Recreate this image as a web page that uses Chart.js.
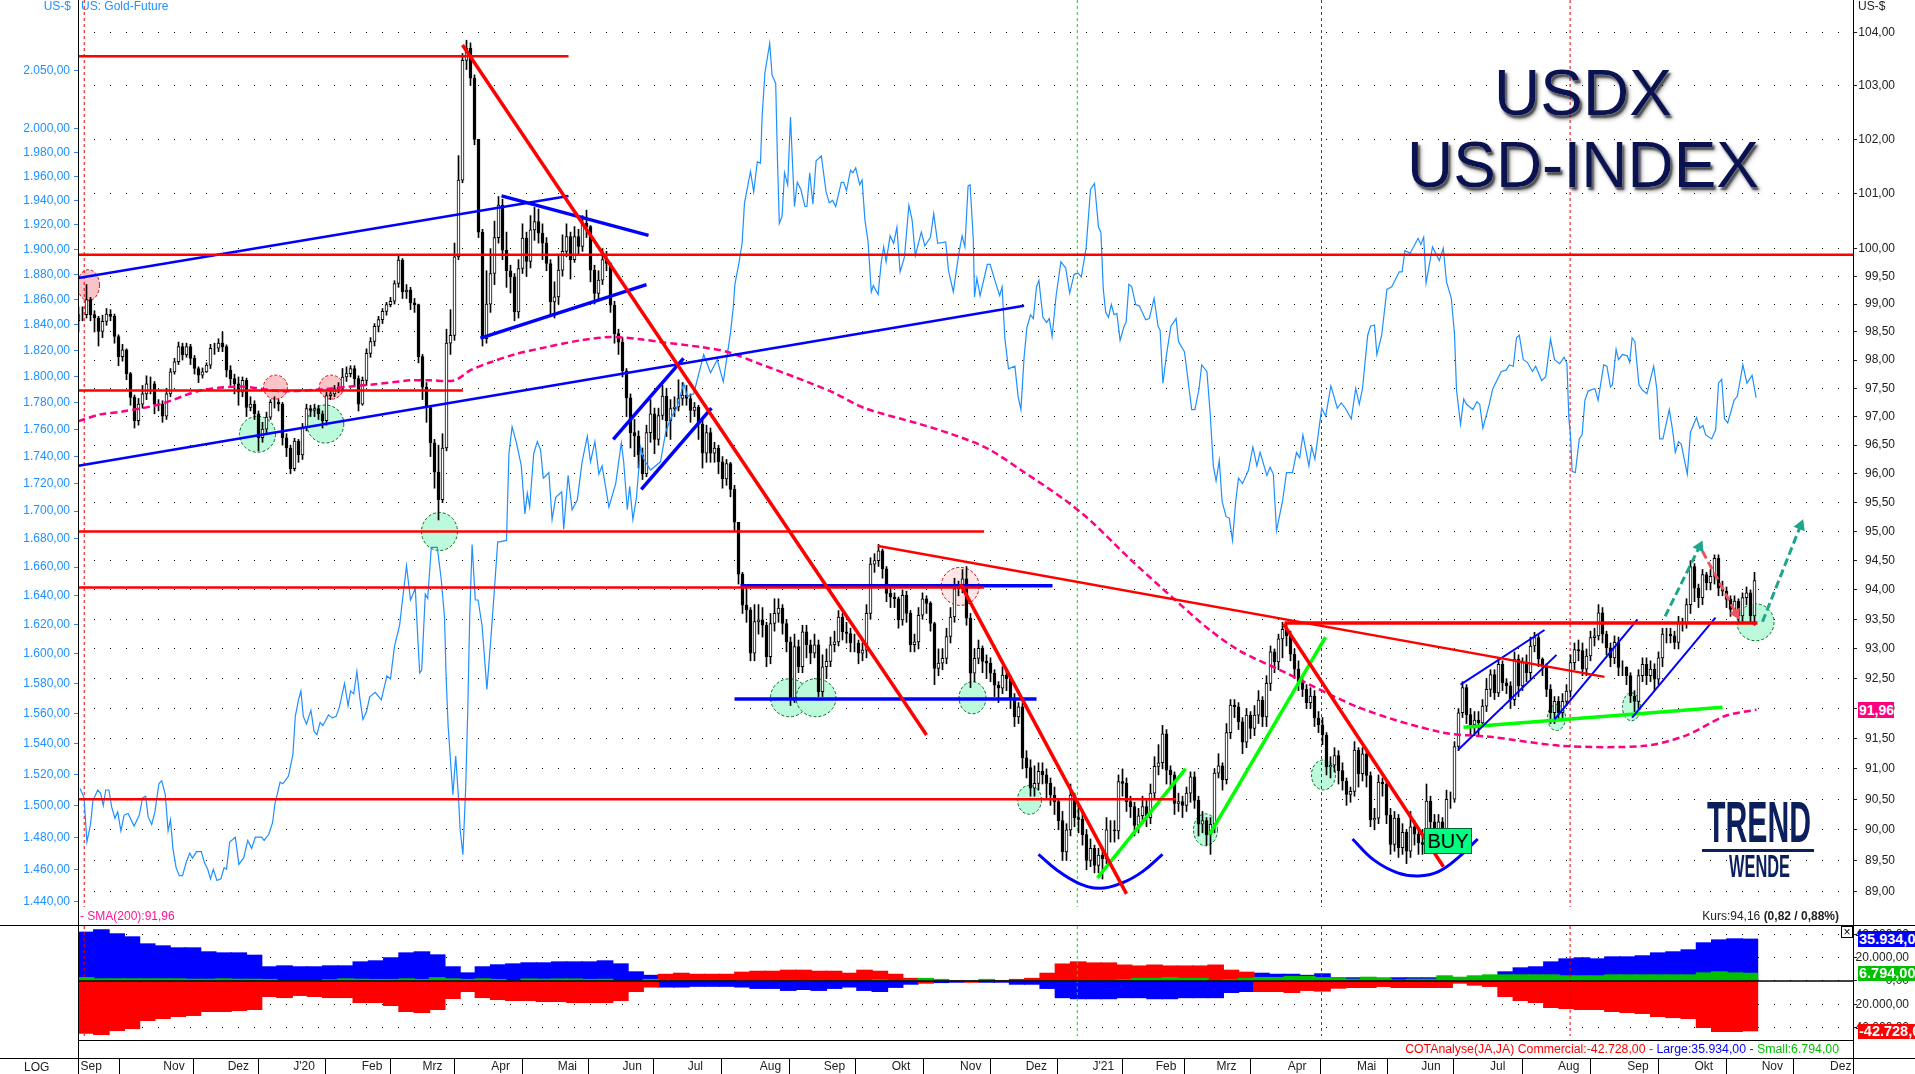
<!DOCTYPE html>
<html><head><meta charset="utf-8"><title>USDX USD-INDEX</title>
<script src="https://cdn.jsdelivr.net/npm/chart.js@4"></script>
<style>
html,body{margin:0;padding:0;background:#fff;width:1915px;height:1074px;overflow:hidden;font-family:"Liberation Sans",Arial,sans-serif}
canvas{position:absolute;left:0}
.t{position:absolute;white-space:nowrap;font-size:12px;line-height:14px}
.ln{position:absolute;background:#000}
.box{position:absolute;left:1858px;width:57px;color:#fff;font-weight:bold;font-size:14.5px;overflow:hidden;white-space:nowrap;text-align:left;padding-left:1px;box-sizing:border-box}
.big{position:absolute;white-space:nowrap;font-size:64px;line-height:64px;color:#0a1250;width:500px;left:1333px;text-align:center;text-shadow:0 0 1px #fff,2px 3px 2px rgba(0,0,0,.6),3px 4px 4px rgba(0,0,0,.35)}
</style></head><body>
<canvas id="main" width="1915" height="925" style="top:0"></canvas>
<canvas id="cot" width="1915" height="149" style="top:925px"></canvas>
<div class="ln" style="left:78px;top:0;width:1px;height:1074px"></div>
<div class="ln" style="left:1853px;top:0;width:1px;height:1074px"></div>
<div class="ln" style="left:0;top:925px;width:1915px;height:1px"></div>
<div class="ln" style="left:78px;top:1040px;width:1775px;height:1px"></div>
<div class="ln" style="left:0;top:1058px;width:1915px;height:1px"></div>
<div class="t" style="left:21px;width:50px;text-align:right;top:-1px;color:#1e90ff">US-$</div>
<div class="t" style="left:81px;top:-1px;color:#1e90ff">US: Gold-Future</div>
<div class="t" style="left:1858px;top:-1px;color:#222">US-$</div>
<div class="t" style="left:80px;top:909px;color:#ff1493">- SMA(200):91,96</div>
<div class="t" style="left:24px;top:1060px;color:#222">LOG</div>
<div class="t" style="right:76px;top:909px;color:#222">Kurs:94,16 <b>(0,82 / 0,88%)</b></div>
<div class="t" style="right:76px;top:1042px;font-size:12.3px"><span style="color:#f00">COTAnalyse(JA,JA) Commercial:-42.728,00 - </span><span style="color:#00f">Large:35.934,00 - </span><span style="color:#00c000">Small:6.794,00</span></div>
<div class="big" style="top:61px">USDX</div>
<div class="big" style="top:133px">USD-INDEX</div>
<div class="t" id="logo1" style="left:1707px;top:793px;font:bold 58px/58px 'Liberation Sans Narrow','Liberation Sans';color:#0b1f5c;transform-origin:0 0">TREND</div>
<div class="ln" style="left:1702px;top:849px;width:112px;height:3px;background:#0b1f5c"></div>
<div class="t" id="logo2" style="left:1729px;top:851px;font:bold 31px/31px 'Liberation Sans Narrow','Liberation Sans';color:#0b1f5c;transform-origin:0 0">WENDE</div>
<div class="t" style="left:1424px;top:828px;width:46px;height:24px;background:#00ff80;border:1px solid #063;font-size:20px;line-height:24px;text-align:center;color:#000">BUY</div>
<div class="box" style="top:702px;left:1858px;width:36px;height:16px;background:#ff0080;line-height:16px;font-size:14px">91,96</div>
<div class="box" style="top:931px;height:16px;background:#0000ff;line-height:16px">35.934,00</div>
<div class="box" style="top:966px;height:15px;background:#00c000;line-height:15px">6.794,00</div>
<div class="box" style="top:1024px;height:15px;background:#ff0000;line-height:15px">-42.728,00</div>
<div class="t" style="left:1841px;top:926px;width:10px;height:10px;border:1px solid #000;font-size:12px;line-height:10px;text-align:center;background:#fff">×</div>
<script>
const monthTicks=[0,20.7,36.8,53.2,70.3,85.5,102.7,119.3,135.5,151.8,169.8,185.8,202.8,219.9,236.3,253,268.8,284,301.8,319.1,335.2,352.4,369.4,386.7,403.5,420.3,437.4];
const monthLabels=["Sep","Nov","Dez","J'20","Feb","Mrz","Apr","Mai","Jun","Jul","Aug","Sep","Okt","Nov","Dez","J'21","Feb","Mrz","Apr","Mai","Jun","Jul","Aug","Sep","Okt","Nov","Dez"];
const goldTicks=[2050,2000,1980,1960,1940,1920,1900,1880,1860,1840,1820,1800,1780,1760,1740,1720,1700,1680,1660,1640,1620,1600,1580,1560,1540,1520,1500,1480,1460,1440];
const usdTicks=[104,103,102,101,100,99.5,99,98.5,98,97.5,97,96.5,96,95.5,95,94.5,94,93.5,93,92.5,92,91.5,91,90.5,90,89.5,89];
const cotTicks=[40000,20000,0,-20000,-40000];
const firstOpen=98.7;
const closes=[98.81,98.81,99.08,98.81,98.75,98.51,98.69,98.82,98.78,98.42,98.06,98.18,97.76,97.34,96.93,97.22,97.40,97.58,97.58,97.22,97.22,97.01,97.40,97.79,97.97,98.24,98.09,98.24,98.03,97.85,97.73,97.79,97.91,98.21,98.21,98.30,98.24,97.82,97.67,97.58,97.43,97.64,97.16,97.22,97.05,96.63,96.78,96.99,97.25,97.25,97.22,96.63,96.45,96.09,96.57,96.33,96.81,97.14,97.11,97.14,97.05,96.93,97.37,97.40,97.49,97.52,97.70,97.76,97.85,97.67,97.22,97.64,98.12,98.33,98.60,98.72,98.87,98.99,99.05,99.37,99.79,99.22,99.25,99.02,98.99,98.06,97.52,97.16,96.54,96.03,
95.55,96.45,98.3,98.44,99.85,101.25,103.47,103.7,103.14,102.0,100.3,98.38,99.0,99.55,100.2,100.79,99.97,99.6,99.49,98.86,99.64,100.19,99.77,100.34,100.49,100.28,100.1,99.73,99.04,99.13,99.61,99.95,100.22,99.8,100.22,100.04,100.46,100.4,99.61,99.19,99.43,99.8,99.73,98.98,98.47,98.32,97.81,97.33,96.72,96.66,96.33,96.0,96.72,97.05,96.6,97.02,97.36,96.93,97.14,97.17,97.32,97.38,97.32,97.11,97.17,96.87,96.36,96.72,96.36,96.45,96.21,95.91,96.18,95.73,95.16,
94.27,93.74,93.66,92.93,93.46,93.49,93.4,92.87,93.43,93.6,93.69,93.43,93.12,92.17,93.04,92.7,93.29,93.07,92.93,93.07,92.28,92.7,92.79,93.07,93.12,93.54,93.29,93.26,93.1,93.1,92.93,92.98,93.6,94.44,94.5,94.67,94.36,93.94,93.88,93.85,93.49,93.91,93.6,93.07,93.12,93.57,93.85,93.77,93.43,92.67,92.76,92.84,93.21,93.54,94.02,94.05,94.19,93.52,92.59,92.84,93.01,92.79,92.76,92.59,92.39,92.34,92.56,92.5,92.17,91.86,92.03,91.18,91.02,90.68,90.76,90.96,90.9,90.76,90.57,90.46,90.15,89.64,90.0,90.57,90.2,90.17,89.92,89.5,89.7,89.42,89.59,89.53,90.0,90.0,89.98,90.79,90.76,90.46,90.38,90.07,90.23,90.38,90.2,90.6,91.04,91.1,91.58,90.98,90.9,90.43,90.46,90.4,90.6,90.87,90.48,90.09,90.15,89.92,90.09,90.93,91.05,90.82,91.6,92.06,92.03,91.78,91.44,91.89,91.67,91.89,92.14,91.86,92.42,92.95,92.78,93.17,
93.33,93.22,92.91,92.66,92.43,92.32,92.1,92.21,91.84,91.73,91.56,91.03,91.06,91.22,90.97,90.8,90.58,90.63,91.31,90.92,91.25,90.89,90.16,90.19,90.78,90.75,90.24,89.76,90.19,89.71,89.96,89.65,90.05,89.93,89.79,89.76,90.47,90.13,90.02,90.13,90.02,90.5,90.5,91.37,91.93,92.35,91.9,91.73,91.81,91.76,
92.04,92.32,92.57,92.26,92.74,92.43,92.38,92.15,92.83,92.38,92.77,92.6,93.05,93.19,92.83,92.71,92.32,91.93,92.12,91.93,92.12,92.29,92.77,92.99,92.97,92.66,92.88,93.19,93.22,93.61,93.25,93.02,92.85,93.11,92.69,92.69,92.55,92.21,92.12,92.55,92.74,92.55,92.66,92.49,92.85,93.25,93.25,93.22,93.11,93.44,93.44,93.75,94.4,94.03,93.87,94.26,94.12,94.23,94.54,94.03,93.98,93.84,93.67,93.81,93.56,93.87,93.95,93.56,94.16];
const highs=[98.95,98.95,99.35,99.12,98.88,98.78,98.8,98.92,98.9,98.82,98.45,98.28,98.2,97.78,97.38,97.32,97.55,97.72,97.7,97.62,97.3,97.28,97.5,97.85,98.03,98.32,98.3,98.3,98.28,98.08,97.88,97.86,97.95,98.28,98.3,98.38,98.5,98.27,97.9,97.75,97.7,97.7,97.68,97.35,97.28,97.1,96.9,97.08,97.3,97.35,97.3,97.25,96.7,96.5,96.62,96.6,96.88,97.22,97.2,97.22,97.2,97.1,97.43,97.48,97.55,97.6,97.85,97.88,97.9,97.9,97.72,97.7,98.2,98.4,98.65,98.78,98.92,99.03,99.12,99.42,99.88,99.82,99.35,99.3,99.1,99.0,98.1,97.6,97.2,96.6,
96.5,96.7,98.55,98.9,100.1,101.7,103.6,103.85,103.8,103.2,102,100.35,99.6,100.0,100.5,100.95,100.9,100.3,99.7,99.55,99.8,100.45,100.3,100.6,100.75,100.72,100.45,100.2,99.8,99.4,99.9,100.25,100.45,100.3,100.4,100.35,100.6,100.7,100.42,99.7,99.6,100.0,99.95,99.75,99.05,98.55,98.4,97.85,97.4,96.95,96.75,96.45,96.85,97.3,97.15,97.15,97.55,97.5,97.3,97.35,97.65,97.6,97.55,97.4,97.25,97.2,96.95,96.85,96.8,96.55,96.5,96.3,96.25,96.2,95.8,
94.85,94.3,94.05,93.7,93.75,93.75,93.7,93.45,93.6,93.85,93.85,93.75,93.5,93.2,93.25,93.15,93.4,93.4,93.15,93.25,93.15,92.9,93.0,93.2,93.3,93.65,93.6,93.45,93.35,93.25,93.15,93.1,93.75,94.55,94.62,94.78,94.7,94.4,94.05,93.95,93.88,94.0,93.98,93.65,93.25,93.7,93.95,93.9,93.8,93.45,93.0,93.0,93.35,93.7,94.2,94.15,94.35,94.4,93.6,93.0,93.15,93.05,92.9,92.85,92.65,92.45,92.7,92.65,92.55,92.25,92.1,92.1,91.3,91.15,91.05,91.1,91.1,91.0,90.85,90.7,90.5,90.3,90.1,90.75,90.6,90.4,90.3,90.0,89.85,89.75,89.7,89.7,90.2,90.15,90.15,90.9,91.0,90.85,90.55,90.45,90.35,90.55,90.5,90.75,91.2,91.4,91.72,91.65,91.05,90.95,90.6,90.55,90.7,90.95,90.95,90.55,90.3,90.2,90.2,91.0,91.25,91.1,91.75,92.15,92.15,92.1,91.85,92.0,91.95,92.05,92.3,92.2,92.55,93.05,93.0,93.25,
93.45,93.45,93.3,93.0,92.8,92.55,92.4,92.35,92.3,91.95,91.85,91.6,91.2,91.35,91.3,91.1,90.85,90.7,91.45,91.35,91.35,91.3,90.95,90.35,90.9,90.85,90.8,90.35,90.3,90.25,90.1,90.0,90.3,90.15,90.0,90.0,90.75,90.55,90.25,90.25,90.2,90.65,90.62,91.45,92.0,92.45,92.4,92.0,91.95,91.95,
92.15,92.5,92.65,92.65,92.85,92.8,92.5,92.45,92.95,92.9,92.85,92.9,93.2,93.28,93.25,92.85,92.75,92.4,92.2,92.2,92.25,92.4,92.9,93.1,93.15,93.1,93.0,93.3,93.35,93.75,93.7,93.3,93.1,93.22,93.2,92.8,92.7,92.6,92.3,92.65,92.85,92.85,92.8,92.75,92.95,93.35,93.35,93.35,93.3,93.55,93.52,93.85,94.5,94.45,94.1,94.35,94.3,94.35,94.6,94.6,94.15,94.05,93.9,93.9,93.85,93.95,94.05,94.0,94.3];
const lows=[98.5,98.7,98.75,98.7,98.5,98.25,98.4,98.62,98.7,98.3,97.9,97.98,97.65,97.2,96.8,96.85,97.15,97.3,97.4,97.05,97.1,96.9,96.95,97.35,97.75,97.92,98.0,98.05,97.92,97.75,97.6,97.68,97.78,97.85,98.1,98.15,98.15,97.7,97.55,97.4,97.2,97.35,97.0,97.1,96.95,96.4,96.55,96.72,96.95,97.15,97.1,96.5,96.3,96.0,96.05,96.2,96.25,96.75,97.0,97.0,96.95,96.8,96.85,97.3,97.35,97.42,97.45,97.62,97.7,97.55,97.1,97.2,97.55,98.05,98.25,98.5,98.65,98.8,98.95,99.0,99.3,99.1,99.1,98.9,98.85,97.95,97.3,96.9,96.3,95.75,
95.2,95.5,96.4,98.1,98.35,99.8,101.2,103.3,103.0,101.9,100.2,98.25,98.3,98.85,99.35,100.1,99.8,99.3,99.2,98.7,98.75,99.55,99.5,99.65,100.15,100.1,99.8,99.6,98.8,98.75,99.0,99.5,99.85,99.45,99.75,99.9,99.95,100.2,99.4,99.0,99.05,99.35,99.6,98.85,98.3,98.1,97.7,97.0,96.45,96.3,96.1,95.9,95.95,96.55,96.35,96.5,96.95,96.65,96.6,97.0,97.1,97.2,97.2,96.9,97.0,96.6,96.1,96.2,96.2,96.2,96.0,95.75,95.8,95.6,95.0,
94.1,93.6,93.45,92.8,92.8,93.25,93.2,92.7,92.75,93.3,93.45,93.25,92.95,92.05,92.1,92.6,92.6,92.85,92.75,92.85,92.2,92.2,92.5,92.7,92.95,93.05,93.15,93.1,92.95,92.95,92.75,92.8,92.85,93.5,94.3,94.4,94.2,93.8,93.7,93.7,93.35,93.4,93.45,92.95,92.95,93.0,93.5,93.6,93.3,92.4,92.55,92.65,92.75,93.1,93.45,93.9,93.95,93.4,92.35,92.45,92.75,92.6,92.5,92.45,92.2,92.1,92.25,92.3,92.0,91.7,91.75,91.0,90.85,90.55,90.55,90.65,90.75,90.5,90.4,90.25,90.0,89.5,89.5,89.9,90.05,89.95,89.75,89.35,89.4,89.3,89.3,89.2,89.45,89.8,89.8,89.85,90.55,90.3,90.2,89.9,89.95,90.1,90.05,90.1,90.5,90.9,91.0,90.75,90.7,90.25,90.3,90.2,90.3,90.45,90.35,89.9,89.95,89.75,89.6,89.95,90.85,90.65,90.75,91.5,91.85,91.65,91.25,91.35,91.5,91.55,91.75,91.7,91.7,92.3,92.6,92.65,
92.85,93.05,92.8,92.5,92.3,92.2,92.0,92.0,91.7,91.6,91.4,90.9,90.85,90.95,90.75,90.65,90.4,90.45,90.55,90.7,90.8,90.7,90.05,90.0,90.1,90.55,90.1,89.6,89.65,89.55,89.6,89.45,89.55,89.75,89.6,89.6,89.7,90.0,89.9,89.95,89.9,90.0,90.35,90.45,91.3,91.85,91.75,91.55,91.55,91.55,
91.7,91.95,92.2,92.15,92.2,92.3,92.25,92.0,92.05,92.2,92.3,92.45,92.5,92.95,92.7,92.55,92.2,91.75,91.75,91.8,91.85,92.05,92.2,92.65,92.8,92.55,92.55,92.8,93.05,93.15,93.1,92.9,92.7,92.75,92.55,92.55,92.4,92.1,91.95,92.0,92.45,92.4,92.45,92.3,92.4,92.7,93.1,93.1,93.0,93.0,93.3,93.35,93.6,93.8,93.7,93.75,94.0,94.0,94.1,93.9,93.9,93.7,93.55,93.6,93.45,93.45,93.75,93.45,93.4];
const goldX=[0.4,1.4,2.1,3,3.6,4.8,5.5,6.2,6.8,7.6,8.3,9.1,9.8,10.6,11.4,12.4,13.9,15.2,16,16.8,17.4,18.3,19.1,20.1,20.8,21.7,22.4,23,23.6,24.4,25.2,26,26.9,27.8,28.5,29.5,30.7,31.5,32.3,33,33.7,34.6,35.6,36.4,37,37.8,39.2,40.1,41.3,42.3,43.3,44.2,45.8,46.4,47.6,48.5,49.1,50.4,51.1,52.5,53.6,54.2,55,55.6,56.2,57,58.1,58.9,59.6,60.4,61.1,62.5,63.4,64.4,65.2,66.5,67.4,68,68.8,69.6,70.3,71.1,72,72.8,74.2,75.7,77.1,78,79,80.3,81,82,83,84.2,84.8,85.3,85.8,86.7,87.3,88.2,89.7,90.7,91.5,91.9,92.4,93,93.6,94.3,95,95.4,96.1,96.8,97.3,97.8,98.4,99.2,99.9,100.9,102.1,103,104,104.8,105.2,107,107.6,108.4,109.5,110.7,111.6,112.2,112.8,113.8,114.7,115.5,116.2,117.6,118.4,119.3,120.8,121.3,122.4,123.4,124.7,125.9,127.2,128,129.1,130.1,130.9,132.2,132.6,134.3,135.7,136.3,137.2,137.8,138.6,139.5,140.5,141.3,143,145.5,146.8,148,149.7,151.3,152.2,153.8,156.3,158,159.7,161.2,162.2,163,163.7,164.1,165.1,165.9,166.5,168,168.8,169.7,170.5,170.9,171.6,172.8,173.4,174.3,174.7,175.2,175.9,176.5,177.3,178,178.5,179,179.7,180.6,181.6,182.1,182.8,183.6,184.4,185.7,186.9,187.7,188.5,189.3,190.7,191.3,192,193,193.6,194.3,195.3,195.9,196.6,197.4,198.2,198.7,199.9,200.7,201.3,201.9,202.9,203.8,204.6,205.4,206.5,207.6,208.4,209.2,210.7,211.6,213,213.8,214.8,216.8,217.5,218.7,220.1,220.9,221.6,222.4,222.9,223.7,224,224.6,225.4,227.2,227.9,229.3,230.3,230.9,231.6,232.5,234.1,234.9,235.6,236.4,237.1,238,238.7,239.5,240.1,241.1,242,242.7,243.4,244.4,245.6,246.8,247.8,248.9,249.9,250.7,251.9,253,254,255,255.6,256.2,256.8,257.5,258.2,258.9,259.6,260.4,261.4,261.9,262.6,263.3,264.3,265.2,266.8,267.7,268.9,269.9,270.4,271.1,272.1,273.1,274.4,275,276.5,278.3,279.1,280.1,280.8,282.1,282.9,283.7,284.4,285.2,285.9,286.9,287.7,288.5,289.3,290,291,292.5,293.6,294.6,295.4,297.1,297.9,298.7,299.5,301,302,303.5,304.5,305.3,306.1,307.6,308.3,309.1,310.8,311.8,313.1,314.7,315.7,316.7,318.2,319.3,320.2,321,322.3,323,324,324.6,325.8,327.1,328.3,330.2,330.9,331.6,332.9,334.9,335.6,336.3,336.9,338.5,340.2,341.2,342,343.2,344,344.5,345.5,346.3,347,348.6,349.6,350.3,351.1,352.6,353.6,355.7,356.9,357.7,358.7,359.5,360.2,361.2,362.2,363.5,364.3,365.8,366.8,368,369,370.3,371.4,372.1,372.6,373,373.4,374.2,375.2,375.9,376.6,377.4,379.1,379.9,381.3,382.1,383,383.5,384.4,385,386,387.2,387.8,388.4,389.1,390.1,390.9,392.1,393.8,394.6,395.3,396.1,397.7,398.5,399.2,400,400.7,402.2,403,404.5,405.3,406.1,406.8,408.3,409.3,410,410.8,411.5,412.3,413.9,414.7,416.1,417.1,418.4,419.4];
const goldY=[1511,1505,1477,1488,1503,1510,1508,1500,1510,1510,1499,1492,1496,1484,1494,1495,1487,1494,1505,1506,1493,1488,1496,1514,1516,1507,1484,1491,1473,1461,1456,1456,1464,1470,1467,1471,1471,1464,1460,1454,1460,1453,1454,1461,1460,1477,1480,1463,1467,1478,1473,1480,1480,1478,1482,1489,1501,1515,1514,1519,1533,1558,1569,1575,1558,1553,1562,1548,1546,1554,1552,1559,1557,1558,1564,1580,1565,1575,1573,1588,1571,1556,1561,1571,1574,1569,1585,1583,1605,1620,1637,1661,1637,1645,1612,1587,1589,1641,1638,1674,1674,1651,1625,1585,1552,1529,1507,1532,1505,1485,1469,1512,1560,1625,1676,1637,1637,1619,1576,1607,1645,1678,1678,1679,1742,1762,1750,1733,1698,1713,1703,1742,1751,1745,1724,1728,1694,1710,1714,1687,1726,1701,1708,1736,1755,1736,1751,1727,1733,1710,1703,1720,1750,1736,1701,1718,1694,1710,1747,1738,1730,1736,1758,1768,1777,1795,1785,1787,1817,1803,1813,1796,1817,1834,1854,1872,1889,1905,1938,1964,1947,1972,1971,2010,2048,2074,2046,2039,1979,1921,1927,1963,1953,2010,1971,1935,1955,1949,1935,1935,1963,1937,1973,1977,1947,1938,1940,1935,1955,1955,1948,1965,1963,1967,1953,1957,1924,1906,1866,1871,1864,1890,1902,1890,1911,1905,1918,1882,1894,1936,1924,1895,1914,1903,1910,1929,1905,1906,1883,1866,1897,1911,1902,1952,1953,1908,1862,1877,1863,1888,1888,1873,1863,1870,1829,1806,1808,1785,1775,1815,1838,1848,1845,1870,1875,1846,1842,1845,1831,1863,1890,1885,1865,1880,1881,1878,1901,1949,1954,1918,1914,1868,1850,1846,1856,1848,1849,1828,1839,1842,1872,1870,1856,1855,1844,1845,1861,1839,1836,1795,1819,1839,1845,1827,1819,1775,1775,1790,1809,1804,1773,1733,1722,1737,1707,1696,1695,1679,1707,1724,1720,1730,1747,1733,1743,1726,1732,1727,1686,1707,1728,1728,1743,1739,1756,1733,1747,1738,1776,1770,1793,1776,1780,1776,1768,1791,1779,1791,1832,1839,1840,1817,1832,1868,1870,1882,1882,1899,1897,1909,1904,1910,1873,1902,1891,1901,1874,1861,1833,1790,1764,1783,1779,1775,1781,1779,1761,1778,1791,1804,1805,1809,1808,1830,1832,1813,1811,1804,1808,1797,1800,1829,1813,1810,1815,1810,1768,1756,1729,1728,1753,1756,1782,1789,1791,1782,1809,1808,1792,1794,1821,1813,1817,1816,1811,1830,1827,1794,1790,1787,1808,1790,1753,1753,1775,1760,1743,1751,1749,1727,1758,1769,1761,1763,1756,1753,1760,1795,1798,1768,1765,1782,1785,1809,1795,1801,1784];
const smaX=[0,5.5,11,20.5,30.5,40.5,50.5,60.5,70.5,74,83,88,94,98,103,109,117,125.5,133,140.5,145.5,155.7,162.5,170,179,188.5,196.5,209.8,218,227,235.5,246.5,252.8,263,273,283,290.5,300.5,320.8,341,353,371,391.5,401.8,411.8,419.5];
const smaY=[96.92,97.04,97.09,97.22,97.46,97.53,97.45,97.48,97.55,97.57,97.64,97.64,97.64,97.82,97.96,98.1,98.23,98.35,98.41,98.37,98.32,98.23,98.14,97.94,97.7,97.43,97.15,96.88,96.7,96.45,96.07,95.55,95.2,94.52,93.9,93.31,92.96,92.64,92.0,91.6,91.53,91.38,91.38,91.55,91.88,91.98];
const cotLarge=[41900,43900,40500,37900,31900,30200,28500,28500,25100,24200,24200,22200,12300,13100,12300,12300,13100,13100,16500,17400,20000,24200,25100,22500,12300,7100,12300,14000,14800,15700,15700,16500,16500,16500,17400,14800,8000,5000,
-5300,-5300,-4700,-4700,-4700,-5300,-6500,-6500,-8200,-7400,-8200,-6500,-5300,-8200,-9100,-5600,-2900,-500,-1500,-1200,0,-1200,-1200,-2900,-2900,-6500,-14400,-15300,-15300,-15300,-14400,-14400,-15300,-15300,-14400,-14400,-14400,-10000,-9100,6800,5900,5900,5000,
6300,3100,2900,2900,2600,2900,2900,2900,2900,-1100,0,0,8000,11400,12300,16500,19100,20000,19100,20800,20800,21700,24200,25100,26800,32800,35300,36200,35934];
const cotCommercial=[-44700,-45900,-42500,-40800,-33900,-32200,-30500,-29600,-26200,-26200,-25400,-24500,-13400,-14300,-12500,-13400,-14300,-14300,-18500,-18500,-21100,-26200,-27100,-24500,-15100,-9100,-14300,-16000,-16800,-16800,-17700,-17700,-18500,-18500,-18500,-16800,-9100,-5300,
5900,6800,5900,5900,5900,7700,8500,8500,9400,9400,8500,8500,6800,9400,8500,5900,2400,-2000,500,300,-1200,300,600,1500,2400,6800,14700,16500,15600,15600,13800,13000,13800,13000,13000,13000,13800,9400,7700,-9100,-9100,-10000,-8200,
-8800,-6300,-5700,-5700,-4800,-5700,-5700,-5700,-5700,-2000,-3700,-4800,-13400,-16800,-18500,-22800,-23700,-24500,-24500,-26200,-27100,-27900,-30500,-31400,-32200,-39900,-43300,-43300,-42728];
const cotSmall=[3100,2000,2000,2000,2000,2000,2000,1700,1700,2000,1700,1700,1500,0,0,0,1200,2000,1700,1500,1500,2000,1500,3000,2000,1500,2000,1500,0,1900,1700,1900,1900,1500,1700,0,0,1500,
0,0,0,0,0,-600,-600,-600,0,-600,0,0,0,0,1200,0,800,2400,1500,0,0,1500,0,0,0,0,0,0,0,0,1200,2400,2400,3200,2400,2400,0,1200,2400,3200,3200,4100,4100,
3100,3100,1700,3400,2600,1100,1700,1700,4600,3400,4600,5400,5400,5400,5400,5400,4600,4600,4600,5400,5400,5400,5400,5400,5400,7100,8000,7100,6794];
// trend lines: x1, value1, x2, value2
const redFlat=[[0,103.55,122.5,103.55],[0,99.89,443.75,99.89],[0,97.46,96.1,97.46],[0,95,226.4,95],[0,94.04,226.4,94.04],[0,90.5,274.4,90.5]];
const redHeavy=[[301.5,93.44,419.75,93.44],[96,103.76,212,91.56],[220.5,94.1,262,88.96],[301.25,93.42,341.25,89.4]];
const redThin=[[199.9,94.75,381.5,92.53]];
const blueMid=[[0,99.47,122.5,100.96],[0,96.14,236.4,98.97]];
const blueHeavy=[[105.75,100.96,142.5,100.24],[100.5,98.39,142,99.35],[133.7,96.6,151.25,98.03],[140.7,95.73,158.25,97.15],[165.5,94.07,243.5,94.07],[164,92.16,239.5,92.16]];
const blueThin=[[345.5,92.4,366.5,93.32],[345,91.32,369.5,92.9],[369,91.82,389.75,93.5],[388.4,91.85,409.25,93.53]];
const greenLines=[[254.75,89.22,276.75,91],[282.75,89.92,311.75,93.2],[346.25,91.69,411,92.02]];
const arcOneX=[240,244.5,249.8,255.3,261,266,271], arcOneY=[89.6,89.35,89.14,89.05,89.14,89.32,89.6];
const arcTwoX=[318.5,323.8,329.8,335,340,345,349.8], arcTwoY=[89.85,89.51,89.3,89.25,89.32,89.55,89.85];
const tealArrows=[[396.65,93.55,405.25,94.74,26],[421,93.46,430.5,95.1,22]];
const redArrow=[[406,94.66,414.4,93.6,152]];
const redCycles=[1.43,310.75,372.9], greenCycles=[249.7];
const circleX=[2.5,49.25,63.2,220.4,44.75,61.7,90.25,177.75,184.4,223.5,237.75,281.75,311.25,369.5,388.25,419.25];
const circleY=[99.34,97.52,97.52,94.06,96.69,96.87,95,92.18,92.18,92.18,90.49,90,90.9,91.85,92.03,93.45];

const XMIN=-0.125,XMAX=443.625;
const fmt=v=>v.toLocaleString('de-DE',{minimumFractionDigits:2,maximumFractionDigits:2});
const noPad=s=>{s.paddingTop=0;s.paddingBottom=0;s.paddingLeft=0;s.paddingRight=0;};
Chart.defaults.font.family='"Liberation Sans",Arial,sans-serif';
Chart.defaults.font.size=12;
Chart.defaults.animation=false;

const opens=closes.map((c,i)=>i?closes[i-1]:firstOpen);
const seg=(rows,style,o)=>rows.map(r=>Object.assign({type:'line',yAxisID:'yR',xAxisID:'x',order:o,pointRadius:0,tension:0,data:[{x:r[0],y:r[1]},{x:r[2],y:r[3]}]},style));
const arrow=(rows,color)=>rows.map(r=>({type:'line',yAxisID:'yR',order:1,tension:0,borderColor:color,backgroundColor:color,borderWidth:3,borderDash:[8,4],pointStyle:'triangle',pointRadius:[0,7],pointBorderWidth:0,pointRotation:[0,r[4]],data:[{x:r[0],y:r[1]},{x:r[2],y:r[3]}]}));
const arc=(xs,ys)=>({type:'line',yAxisID:'yR',order:1,pointRadius:0,tension:.4,borderColor:'#0000ff',borderWidth:3,data:xs.map((x,i)=>({x,y:ys[i]}))});
const vline=(x,c,w,lo,hi,axis)=>({type:'line',yAxisID:axis,order:7,pointRadius:0,borderColor:c,borderWidth:w,borderDash:[3,3],data:[{x,y:hi},{x,y:lo}]});

const ellipseStyle={rx:[11,12,12,19,18,18.5,18,19,20,13.5,12,12,12,9,9,18.5],ry:[15.5,12,12,19,18,19,19,19,19,16,14.5,16,15,13,14,18.5],
 fill:['#f8c4c8','#f8c4c8','#f8c4c8','#fce6e6'],stroke:'#e00000'};
const ellipses={id:'ellipses',beforeDatasetsDraw(ch){
 const c=ch.ctx,X=ch.scales.x,Y=ch.scales.yR;c.save();
 c.beginPath();c.rect(ch.chartArea.left,ch.chartArea.top,ch.chartArea.width,ch.chartArea.height);c.clip();
 circleX.forEach((v,i)=>{const pink=i<4;
  c.beginPath();c.ellipse(X.getPixelForValue(v),Y.getPixelForValue(circleY[i]),ellipseStyle.rx[i],ellipseStyle.ry[i],0,0,7);
  c.fillStyle=pink?ellipseStyle.fill[i]:'#bdf9db';c.fill();
  c.setLineDash([3,2]);c.lineWidth=1;c.strokeStyle=pink?'#e00000':'#007020';c.stroke();});
 c.restore();}};
// the panel runs the full canvas height: label margins must not shrink it
const pinArea={id:'pinArea',afterLayout(ch){
 const a=ch.chartArea;a.top=0;a.bottom=ch.height;a.height=ch.height;
 [ch.scales.yL,ch.scales.yR].forEach(s=>{s.top=0;s.bottom=ch.height;s.height=ch.height;s.configure();});}};

new Chart(document.getElementById('main'),{type:'bar',plugins:[ellipses,pinArea],data:{datasets:[
 ...seg(redFlat,{borderColor:'#ff0000',borderWidth:2.5},1),
 ...seg(redHeavy,{borderColor:'#ff0000',borderWidth:3.5},1),
 ...seg(redThin,{borderColor:'#ff0000',borderWidth:2.5},1),
 ...seg(blueMid,{borderColor:'#0000ff',borderWidth:2.5},1),
 ...seg(blueHeavy,{borderColor:'#0000ff',borderWidth:3.5},1),
 ...seg(blueThin,{borderColor:'#0000ff',borderWidth:2},1),
 ...seg(greenLines,{borderColor:'#00ff00',borderWidth:3.5},1),
 arc(arcOneX,arcOneY),arc(arcTwoX,arcTwoY),
 ...arrow(tealArrows,'#1fa58a'),...arrow(redArrow,'#ea5560'),
 {type:'line',label:'SMA(200)',yAxisID:'yR',order:2,pointRadius:0,tension:.3,borderColor:'#ff0080',borderWidth:2.5,borderDash:[7,4],data:smaX.map((x,i)=>({x,y:smaY[i]}))},
 {type:'line',label:'Gold-Future',yAxisID:'yL',order:3,pointRadius:0,tension:0,borderColor:'#1e8fff',borderWidth:1.2,data:goldX.map((x,i)=>({x,y:goldY[i]}))},
 {type:'bar',label:'USDX body',yAxisID:'yR',order:4,grouped:false,barThickness:3,borderWidth:1,borderColor:'#000',borderSkipped:false,
  backgroundColor:closes.map((c,i)=>c>=opens[i]?'#fff':'#000'),data:closes.map((c,i)=>({x:i,y:[opens[i],c]}))},
 {type:'bar',label:'USDX range',yAxisID:'yR',order:5,grouped:false,barThickness:1,backgroundColor:'#000',data:closes.map((c,i)=>({x:i,y:[lows[i],highs[i]]}))},
 ...redCycles.map(x=>vline(x,'#e00000',1,88.75,104.61,'yR')),
 ...greenCycles.map(x=>vline(x,'#00e000',1,88.75,104.61,'yR'))
]},options:{responsive:false,devicePixelRatio:1,layout:{padding:{left:0,right:20,top:0,bottom:0}},
 plugins:{legend:{display:false},tooltip:{enabled:false}},
 scales:{
  x:{type:'linear',display:false,offset:false,min:XMIN,max:XMAX},
  yL:{type:'logarithmic',bounds:'data',position:'left',min:1425.8,max:2112.5,afterFit(s){s.width=78;noPad(s)},
   afterBuildTicks(s){s.ticks=goldTicks.map(value=>({value}))},
   border:{display:false},grid:{drawOnChartArea:false,tickLength:4,tickColor:'#1e90ff'},
   ticks:{color:'#1e90ff',padding:4,autoSkip:false,callback:v=>fmt(v)}},
  yR:{type:'logarithmic',bounds:'data',position:'right',min:88.46,max:104.61,afterFit(s){s.width=42;noPad(s)},
   afterBuildTicks(s){s.ticks=usdTicks.map(value=>({value}))},
   border:{display:false,dash:[1,15]},grid:{color:'#000',lineWidth:1,tickLength:4,tickColor:'#222'},
   ticks:{color:'#222',crossAlign:'far',autoSkip:false,callback:v=>fmt(v)}}
 }}});

const weekStep=3.816;
const weekBar=(vals,color,o,label)=>({type:'bar',label,order:o,grouped:false,barThickness:16,backgroundColor:color,yAxisID:'y',data:vals.map((v,k)=>({x:1.9+k*weekStep,y:v}))});
new Chart(document.getElementById('cot'),{type:'bar',data:{datasets:[
 {type:'line',order:0,yAxisID:'y',pointRadius:0,borderColor:'#000',borderWidth:1.5,data:[{x:XMIN,y:0},{x:XMAX,y:0}]},
 ...redCycles.map(x=>Object.assign(vline(x,'#e00000',1,-47000,47000,'y'),{order:0})),
 ...greenCycles.map(x=>Object.assign(vline(x,'#00e000',1,-47000,47000,'y'),{order:0})),
 weekBar(cotSmall,'#00c000',1,'Small'),
 weekBar(cotCommercial,'#ff0000',2,'Commercial'),
 weekBar(cotLarge,'#0000ff',3,'Large')
]},options:{responsive:false,devicePixelRatio:1,layout:{padding:{left:78,right:6,top:0,bottom:0}},
 plugins:{legend:{display:false},tooltip:{enabled:false}},
 scales:{
  x:{type:'linear',position:'bottom',offset:false,min:XMIN,max:XMAX,afterFit(s){s.height=16;noPad(s)},
   afterBuildTicks(s){s.ticks=monthTicks.map(value=>({value}))},
   border:{display:false},grid:{drawOnChartArea:false,tickLength:16,tickColor:'#000'},
   ticks:{color:'#222',align:'start',padding:-15,labelOffset:2,maxRotation:0,autoSkip:false,callback:(v,i)=>monthLabels[i]}},
  y:{type:'linear',position:'right',min:-65812,max:47860,afterFit(s){s.width=56;noPad(s)},
   afterBuildTicks(s){s.ticks=cotTicks.map(value=>({value}))},
   border:{display:false,dash:[1,15]},grid:{color:'#000',tickLength:4,tickColor:'#222'},
   ticks:{color:'#222',crossAlign:'far',autoSkip:false,callback:v=>fmt(v)}}
 }}});

function fit(id,w){const e=document.getElementById(id);const r=e.getBoundingClientRect().width;e.style.transform='scaleX('+(w/r)+')';}
fit('logo1',104);fit('logo2',61);
</script>
</body></html>
